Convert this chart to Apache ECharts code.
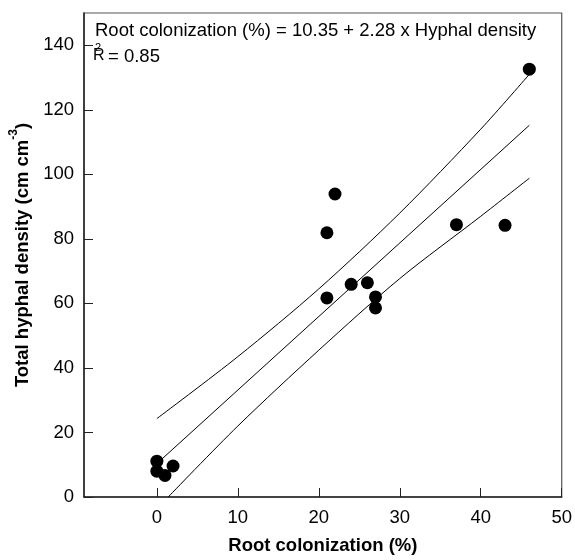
<!DOCTYPE html>
<html>
<head>
<meta charset="utf-8">
<script src="https://cdn.jsdelivr.net/npm/echarts@6/dist/echarts.min.js"></script>
<style>
html,body{margin:0;padding:0;background:#fff;}
#chart{width:575px;height:560px;}
</style>
</head>
<body>
<div id="chart"></div>
<script>
// Observed points
const rootColonization = [0, 0, 1, 2, 21, 22, 21, 24, 26, 27, 27, 37, 43, 46];
const hyphalDensity = [11.1, 8.0, 6.7, 9.6, 81.9, 93.9, 61.7, 65.9, 66.4, 62.0, 58.6, 84.4, 84.2, 132.6];

// Regression line and confidence bands
const fitX = [0, 46];
const fitY = [10.35, 115.2];
const upperX = [0, 10, 20, 30, 40, 46];
const upperY = [24.3, 43.5, 64.5, 88, 114, 131];
const lowerX = [1.4, 10, 20, 30, 40, 46];
const lowerY = [0, 22, 45.5, 67.7, 87, 98.8];

// Tick labels
const xTickLabels = [0, 10, 20, 30, 40, 50];
const yTickLabels = [0, 20, 40, 60, 80, 100, 120, 140];

const equationText = 'Root colonization (%) = 10.35 + 2.28 x Hyphal density';
const r2Value = '= 0.85';

const pair = (xs, ys) => xs.map((x, i) => [x, ys[i]]);
const FONT = '"Liberation Sans", Arial, sans-serif';
const FS = 18.5;

const chart = echarts.init(document.getElementById('chart'), null, {renderer: 'canvas'});
const lineStyle = {color: '#000', width: 1};
chart.setOption({
  animation: false,
  backgroundColor: '#fff',
  grid: {left: 84, top: 13, right: 11, bottom: 62, show: true, borderColor: '#555', borderWidth: 1.2},
  xAxis: {
    type: 'value', min: -9, max: 50,
    splitLine: {show: false},
    axisLine: {onZero: false, lineStyle: {color: '#222', width: 1.5}},
    axisTick: {inside: true, length: 9, customValues: xTickLabels, lineStyle: {color: '#222', width: 1}},
    axisLabel: {
      margin: 11, color: '#000', fontSize: FS, fontFamily: FONT,
      customValues: xTickLabels
    },
    name: 'Root colonization (%)', nameLocation: 'middle', nameGap: 39,
    nameTextStyle: {color: '#000', fontSize: FS, fontWeight: 'bold', fontFamily: FONT}
  },
  yAxis: {
    type: 'value', min: 0, max: 150,
    splitLine: {show: false},
    axisLine: {onZero: false, lineStyle: {color: '#222', width: 1.5}},
    axisTick: {inside: true, length: 9, customValues: yTickLabels, lineStyle: {color: '#222', width: 1}},
    axisLabel: {
      margin: 10, color: '#000', fontSize: FS, fontFamily: FONT,
      customValues: yTickLabels
    },
    name: '{a|Total hyphal density (cm cm}{s|-3}{a|)}', nameLocation: 'middle', nameGap: 52,
    nameTextStyle: {
      color: '#000', fontSize: FS, fontWeight: 'bold', fontFamily: FONT,
      rich: {
        a: {fontSize: FS, fontWeight: 'bold', fontFamily: FONT, color: '#000', lineHeight: 24, verticalAlign: 'bottom'},
        s: {fontSize: 12, fontWeight: 'bold', fontFamily: FONT, color: '#000', lineHeight: 24, verticalAlign: 'top'}
      }
    }
  },
  graphic: [
    {type: 'text', left: 95, top: 21, style: {text: equationText, fill: '#000', font: FS + 'px ' + FONT}},
    {type: 'text', left: 93, top: 48, style: {text: 'R', fill: '#000', font: '16px ' + FONT}},
    {type: 'text', left: 95, top: 42, style: {text: '2', fill: '#000', font: '11px ' + FONT}},
    {type: 'text', left: 108, top: 47, style: {text: r2Value, fill: '#000', font: FS + 'px ' + FONT}}
  ],
  series: [
    {type: 'line', data: pair(fitX, fitY), symbol: 'none', lineStyle: lineStyle, z: 2},
    {type: 'line', data: pair(upperX, upperY), symbol: 'none', smooth: 0.3, lineStyle: lineStyle, z: 2},
    {type: 'line', data: pair(lowerX, lowerY), symbol: 'none', smooth: 0.3, lineStyle: lineStyle, z: 2},
    {type: 'scatter', data: pair(rootColonization, hyphalDensity), symbol: 'circle', symbolSize: 13,
     itemStyle: {color: '#000', opacity: 1}, z: 3}
  ]
});
</script>
</body>
</html>
